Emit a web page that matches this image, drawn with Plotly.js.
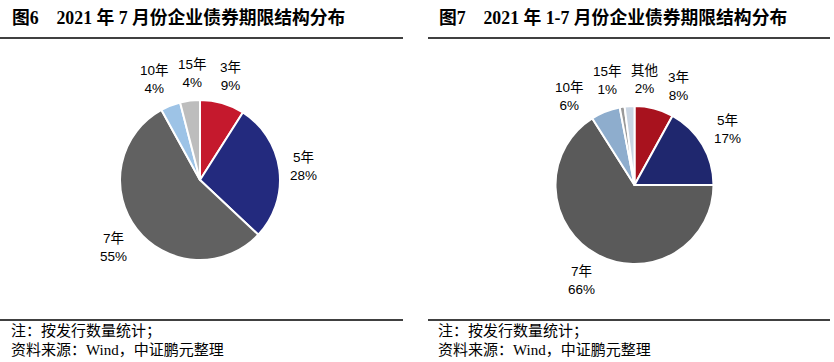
<!DOCTYPE html>
<html>
<head>
<meta charset="utf-8">
<script src="https://cdn.plot.ly/plotly-3.0.1.min.js"></script>
<style>html,body{margin:0;padding:0;background:#fff;}#chart{width:834px;height:362px;}</style>
</head>
<body>
<div id="chart"></div>
<script>
// Data
var leftTitle = '图6　2021 年 7 月份企业债券期限结构分布';
var rightTitle = '图7　2021 年 1-7 月份企业债券期限结构分布';
var leftLabels = ['3年', '5年', '7年', '10年', '15年'];
var leftValues = [9, 28, 55, 4, 4];
var rightLabels = ['3年', '5年', '7年', '10年', '15年', '其他'];
var rightValues = [8, 17, 66, 6, 1, 2];
var noteText = '注：按发行数量统计；';
var sourceText = '资料来源：Wind，中证鹏元整理';

var leftColors = ['#C5192D', '#232A7E', '#616161', '#9DC3E6', '#BDBDBD'];
var rightColors = ['#A8121E', '#1F276E', '#5A5A5A', '#8EADCD', '#9A9A9A', '#C9D5E3'];

var W = 834, H = 362;
function px(x) { return x / W; }
function py(y) { return 1 - y / H; }

// pie geometry (pixels)
var leftPie = {cx: 200, cy: 180, r: 80};
var rightPie = {cx: 634.5, cy: 185, r: 79};

var labelSize = 13.5;
var labelFont = {family: 'Liberation Sans, Noto Sans CJK SC, sans-serif', size: labelSize, color: '#000'};

function textWidth(s) {
  var w = 0;
  for (var i = 0; i < s.length; i++) {
    w += /[\u3000-\u9fff]/.test(s[i]) ? labelSize : (s[i] === '%' ? labelSize * 0.89 : labelSize * 0.556);
  }
  return w;
}

// Place outside labels from data: mid-angle of each slice, kept a fixed gap from
// the pie edge, then spread apart where neighbouring labels would collide
// (labels of smaller slices give way more).
function labelAnnotations(labels, values, pie) {
  var total = values.reduce(function (a, b) { return a + b; }, 0);
  var cum = 0, items = [];
  for (var i = 0; i < values.length; i++) {
    var pct = Math.round(values[i] / total * 100) + '%';
    var ang = (cum + values[i] / 2) / total * 360;
    cum += values[i];
    items.push({ang: ang, v: values[i], text: labels[i] + '<br>' + pct,
      w: Math.max(textWidth(labels[i]), textWidth(pct)), h: 34});
  }
  var gap = 9;
  function pos(it) {
    var t = it.ang * Math.PI / 180, s = Math.sin(t), c = Math.cos(t);
    var ext = Math.abs(s) * it.w / 2 + Math.abs(c) * it.h / 2;
    var d = pie.r + gap + ext;
    return {x: pie.cx + d * s, y: pie.cy - d * c};
  }
  for (var iter = 0; iter < 800; iter++) {
    var moved = false;
    for (var a = 0; a < items.length; a++) {
      var b = (a + 1) % items.length;
      var pa = pos(items[a]), pb = pos(items[b]);
      var needX = (items[a].w + items[b].w) / 2 + 9;
      var needY = (items[a].h + items[b].h) / 2;
      if (Math.abs(pa.x - pb.x) < needX && Math.abs(pa.y - pb.y) < needY) {
        var sum = items[a].v + items[b].v;
        items[a].ang -= items[b].v / sum;
        items[b].ang += items[a].v / sum;
        moved = true;
      }
    }
    if (!moved) break;
  }
  return items.map(function (it) {
    var p = pos(it);
    return {text: it.text, x: px(p.x), y: py(p.y), xref: 'paper', yref: 'paper',
      xanchor: 'center', yanchor: 'middle', showarrow: false, font: labelFont,
      align: 'center'};
  });
}

function pieTrace(labels, values, colors, pie) {
  return {
    type: 'pie', labels: labels, values: values, sort: false,
    direction: 'clockwise', rotation: 0,
    marker: {colors: colors, line: {color: '#fff', width: 2}},
    textinfo: 'none', hoverinfo: 'none', showlegend: false,
    domain: {x: [px(pie.cx - pie.r), px(pie.cx + pie.r)],
             y: [py(pie.cy + pie.r), py(pie.cy - pie.r)]}
  };
}

var traces = [
  pieTrace(leftLabels, leftValues, leftColors, leftPie),
  pieTrace(rightLabels, rightValues, rightColors, rightPie)
];

var titleFont = {family: 'Liberation Serif, Noto Sans CJK SC, serif', size: 17.8, color: '#000', weight: 'bold'};
var footFont = {family: 'Liberation Serif, Noto Sans CJK SC, serif', size: 15, color: '#000'};

var annotations = [
  {text: '<b>' + leftTitle + '</b>', x: px(10), y: py(18), xref: 'paper', yref: 'paper', xanchor: 'left', yanchor: 'middle', showarrow: false, font: titleFont},
  {text: '<b>' + rightTitle + '</b>', x: px(437), y: py(18), xref: 'paper', yref: 'paper', xanchor: 'left', yanchor: 'middle', showarrow: false, font: titleFont},
  {text: noteText, x: px(9), y: py(331), xref: 'paper', yref: 'paper', xanchor: 'left', yanchor: 'middle', showarrow: false, font: footFont},
  {text: sourceText, x: px(9), y: py(350), xref: 'paper', yref: 'paper', xanchor: 'left', yanchor: 'middle', showarrow: false, font: footFont},
  {text: noteText, x: px(436), y: py(331), xref: 'paper', yref: 'paper', xanchor: 'left', yanchor: 'middle', showarrow: false, font: footFont},
  {text: sourceText, x: px(436), y: py(350), xref: 'paper', yref: 'paper', xanchor: 'left', yanchor: 'middle', showarrow: false, font: footFont}
].concat(labelAnnotations(leftLabels, leftValues, leftPie))
 .concat(labelAnnotations(rightLabels, rightValues, rightPie));

var lineStyle = {color: '#000', width: 1.5};
var shapes = [
  {type: 'line', xref: 'paper', yref: 'paper', x0: 0, x1: px(403), y0: py(38), y1: py(38), line: lineStyle},
  {type: 'line', xref: 'paper', yref: 'paper', x0: px(428), x1: px(830), y0: py(38), y1: py(38), line: lineStyle},
  {type: 'line', xref: 'paper', yref: 'paper', x0: 0, x1: px(403), y0: py(320), y1: py(320), line: lineStyle},
  {type: 'line', xref: 'paper', yref: 'paper', x0: px(428), x1: px(830), y0: py(320), y1: py(320), line: lineStyle}
];

var layout = {
  width: W, height: H,
  margin: {l: 0, r: 0, t: 0, b: 0},
  paper_bgcolor: '#fff', plot_bgcolor: '#fff',
  annotations: annotations, shapes: shapes,
  showlegend: false
};

Plotly.newPlot('chart', traces, layout, {staticPlot: true, displayModeBar: false});
</script>
</body>
</html>
